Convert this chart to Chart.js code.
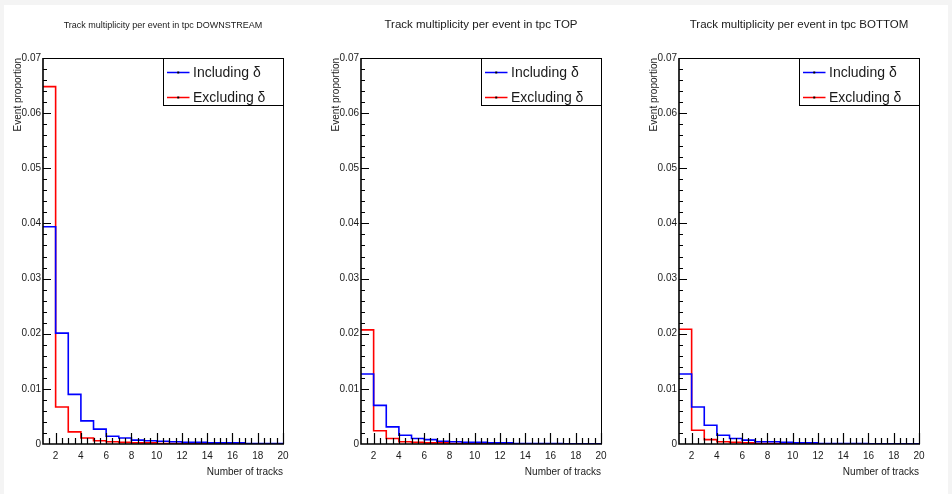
<!DOCTYPE html>
<html>
<head>
<meta charset="utf-8">
<script src="https://cdn.jsdelivr.net/npm/chart.js@4.4.1/dist/chart.umd.min.js"></script>
<style>
html,body{margin:0;padding:0;background:#f4f4f4;width:952px;height:494px;overflow:hidden;}
#sheet{position:absolute;left:4px;top:5px;width:944px;height:489px;background:#fff;}
.pane{position:absolute;top:0;width:318px;height:494px;}
canvas{display:block;}
</style>
</head>
<body>
<div id="sheet"></div>
<div class="pane" style="left:0px"><canvas id="c0" width="318" height="494"></canvas></div>
<div class="pane" style="left:318px"><canvas id="c1" width="318" height="494"></canvas></div>
<div class="pane" style="left:636px"><canvas id="c2" width="318" height="494"></canvas></div>
<script>
// ---------- data ----------
const BIN_EDGES = [1,2,3,4,5,6,7,8,9,10,11,12,13,14,15,16,17,18,19,20];
const X_TICKS = [2,4,6,8,10,12,14,16,18,20];
const Y_TICKS = [0,0.01,0.02,0.03,0.04,0.05,0.06,0.07];
const SERIES_LABELS = ['Including \u03b4', 'Excluding \u03b4'];
const PANEL_TITLES = [
  'Track multiplicity per event in tpc DOWNSTREAM',
  'Track multiplicity per event in tpc TOP',
  'Track multiplicity per event in tpc BOTTOM'
];
const X_TITLE = 'Number of tracks';
const Y_TITLE = 'Event proportion';

const INCL_DOWNSTREAM = [0.0394,0.0201,0.0090,0.0042,0.0027,0.0014,0.0011,0.0007,0.0006,0.0005,0.0004,0.0003,0.0003,0.0002,0.0002,0.0002,0.0001,0.0001,0.0001];
const EXCL_DOWNSTREAM = [0.0648,0.0067,0.0022,0.0011,0.0006,0.0004,0.0003,0.0002,0.0002,0.0001,0.0001,0.0001,0.0001,0.00005,0.00005,0.00005,0.00003,0.00003,0.00002];
const INCL_TOP = [0.0127,0.0070,0.0031,0.0016,0.0010,0.0008,0.0005,0.0004,0.0003,0.0003,0.0002,0.0002,0.0001,0.0001,0.0001,0.0001,0.00005,0.00005,0.00005];
const EXCL_TOP = [0.0207,0.0024,0.0010,0.0004,0.0003,0.0002,0.0002,0.0001,0.0001,0.0001,0.00005,0.00005,0.00005,0.00003,0.00003,0.00002,0.00002,0.00001,0.00001];
const INCL_BOTTOM = [0.0127,0.0067,0.0034,0.0016,0.0010,0.0007,0.0004,0.0004,0.0003,0.0002,0.0002,0.0001,0.0001,0.0001,0.0001,0.00005,0.00005,0.00005,0.00003];
const EXCL_BOTTOM = [0.0208,0.0025,0.0008,0.0004,0.0003,0.0002,0.0001,0.0001,0.0001,0.00005,0.00005,0.00005,0.00003,0.00003,0.00002,0.00002,0.00001,0.00001,0.00001];

// ---------- styling ----------
const FONT = "'Liberation Sans', Arial, Helvetica, sans-serif";
const TEXT = '#1a1a1a';

const rootFrame = {
  id: 'rootFrame',
  afterDatasetsDraw(chart, args, o) {
    const {ctx, chartArea: a, scales: {x, y}} = chart;
    ctx.save();
    ctx.strokeStyle = '#000';
    // frame top/right
    ctx.lineWidth = 1;
    ctx.beginPath();
    ctx.moveTo(a.left, a.top + 0.5); ctx.lineTo(a.right + 0.5, a.top + 0.5);
    ctx.lineTo(a.right + 0.5, a.bottom);
    ctx.stroke();
    // axes
    ctx.lineWidth = 1.6;
    ctx.beginPath();
    ctx.moveTo(a.left, a.top); ctx.lineTo(a.left, a.bottom); ctx.lineTo(a.right + 1, a.bottom);
    ctx.stroke();
    // x ticks (inside)
    ctx.lineWidth = 1.2;
    ctx.beginPath();
    for (let v = x.min + o.xMinor; v < x.max + 1e-9; v += o.xMinor) {
      const px = Math.round(x.getPixelForValue(v)) + 0.5;
      const major = X_TICKS.some(t => Math.abs(t - v) < 1e-6);
      ctx.moveTo(px, a.bottom);
      ctx.lineTo(px, a.bottom - (major ? o.xMajorLen : o.xMinorLen));
    }
    ctx.stroke();
    // y ticks (inside)
    ctx.beginPath();
    for (let k = 1; y.min + k * o.yMinor < y.max + 1e-9; k++) {
      const v = y.min + k * o.yMinor;
      const py = Math.round(y.getPixelForValue(v)) + 0.5;
      const major = Y_TICKS.some(t => Math.abs(t - v) < 1e-9);
      ctx.moveTo(a.left, py);
      ctx.lineTo(a.left + (major ? o.yMajorLen : o.yMinorLen), py);
    }
    ctx.stroke();
    ctx.restore();
  }
};

const rootLegend = {
  id: 'rootLegend',
  afterDraw(chart, args, o) {
    const {ctx, chartArea: a} = chart;
    const right = a.right + 0.5, left = Math.round(a.right - o.width) + 0.5;
    const top = a.top + 0.5, bottom = Math.round(a.top + o.height) + 0.5;
    ctx.save();
    ctx.fillStyle = '#fff';
    ctx.fillRect(left, top, right - left, bottom - top);
    ctx.strokeStyle = '#000';
    ctx.lineWidth = 1;
    ctx.strokeRect(left, top, right - left, bottom - top);
    chart.data.datasets.forEach((ds, i) => {
      const yy = Math.round(a.top + o.firstRow + i * o.rowStep) + 0.5;
      ctx.strokeStyle = ds.borderColor;
      ctx.lineWidth = 1.5;
      ctx.beginPath();
      ctx.moveTo(left + o.lineStart, yy);
      ctx.lineTo(left + o.lineEnd, yy);
      ctx.stroke();
      ctx.fillStyle = '#000';
      ctx.fillRect(left + (o.lineStart + o.lineEnd) / 2 - 1, yy - 1, 2, 2);
      ctx.fillStyle = TEXT;
      ctx.font = o.fontSize + 'px ' + FONT;
      ctx.textBaseline = 'middle';
      ctx.textAlign = 'left';
      ctx.fillText(ds.label, left + o.textStart, yy + 0.5);
    });
    ctx.restore();
  }
};

function histPoints(vals) {
  return BIN_EDGES.map((e, i) => ({x: e, y: vals[Math.min(i, vals.length - 1)]}));
}

function makeChart(id, title, titleSize, titlePad, incl, excl) {
  return new Chart(document.getElementById(id), {
    type: 'line',
    data: {
      datasets: [
        {label: SERIES_LABELS[0], data: histPoints(incl), borderColor: '#0000ff', borderWidth: 1.6, stepped: 'before', pointRadius: 0, fill: false},
        {label: SERIES_LABELS[1], data: histPoints(excl), borderColor: '#ff0000', borderWidth: 1.6, stepped: 'before', pointRadius: 0, fill: false}
      ]
    },
    plugins: [rootFrame, rootLegend],
    options: {
      responsive: false,
      animation: false,
      events: [],
      layout: {padding: {left: 0, right: 35, top: 0, bottom: 0}},
      plugins: {
        legend: {display: false},
        tooltip: {enabled: false},
        title: {
          display: true, text: title, fullSize: false, color: TEXT,
          font: {family: FONT, size: titleSize, weight: 'normal'},
          padding: titlePad
        },
        rootFrame: {xMinor: 0.5, xMajorLen: 11, xMinorLen: 6, yMinor: 0.002, yMajorLen: 8, yMinorLen: 4},
        rootLegend: {width: 120, height: 47, firstRow: 13.7, rowStep: 25, lineStart: 3.5, lineEnd: 26, textStart: 29.5, fontSize: 14}
      },
      scales: {
        x: {
          type: 'linear', min: 1, max: 20,
          afterFit(s) { s.height = 50; },
          afterBuildTicks(s) { s.ticks = X_TICKS.map(v => ({value: v})); },
          grid: {display: false, drawTicks: false},
          border: {display: false},
          ticks: {padding: 6, color: TEXT, font: {family: FONT, size: 10}, maxRotation: 0, autoSkip: false},
          title: {display: true, text: X_TITLE, align: 'end', color: TEXT, font: {family: FONT, size: 10}, padding: {top: 0, bottom: 16}}
        },
        y: {
          type: 'linear', min: 0, max: 0.07,
          afterFit(s) { s.width = 43; },
          afterBuildTicks(s) { s.ticks = Y_TICKS.map(v => ({value: v})); },
          grid: {display: false, drawTicks: false},
          border: {display: false},
          ticks: {padding: 2, color: TEXT, font: {family: FONT, size: 10}, autoSkip: false,
                  callback: v => v === 0 ? '0' : v.toFixed(2)},
          title: {display: true, text: Y_TITLE, align: 'end', color: TEXT, font: {family: FONT, size: 10}, padding: {top: 12, bottom: 0}}
        }
      }
    }
  });
}

makeChart('c0', PANEL_TITLES[0], 9, {top: 20.3, bottom: 26.9}, INCL_DOWNSTREAM, EXCL_DOWNSTREAM);
makeChart('c1', PANEL_TITLES[1], 11.5, {top: 18.1, bottom: 26.1}, INCL_TOP, EXCL_TOP);
makeChart('c2', PANEL_TITLES[2], 11.5, {top: 18.1, bottom: 26.1}, INCL_BOTTOM, EXCL_BOTTOM);
</script>
</body>
</html>
